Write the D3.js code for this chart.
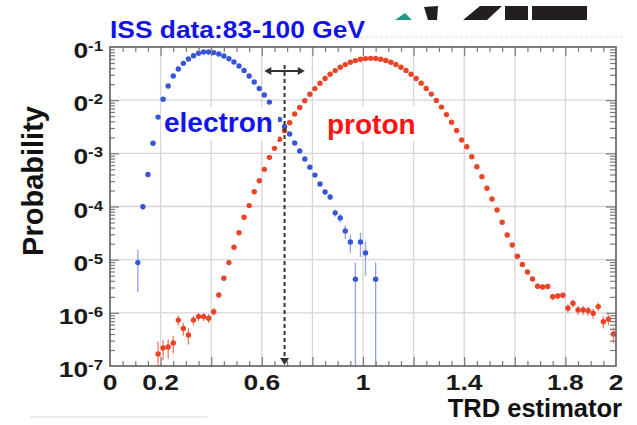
<!DOCTYPE html>
<html>
<head>
<meta charset="utf-8">
<script src="https://cdn.jsdelivr.net/npm/d3@7"></script>
<style>
  html, body { margin: 0; padding: 0; background: #fff; }
  svg { display: block; font-family: "Liberation Sans", Arial, Helvetica, sans-serif; }
</style>
</head>
<body>
<svg id="chart" width="637" height="425"></svg>
<script>
// ---- TRD estimator distributions, 83-100 GeV (bin centres, probability, stat. error) ----
const electronX = [0.11,0.13,0.15,0.17,0.19,0.21,0.23,0.25,0.27,0.29,0.31,0.33,0.35,0.37,0.39,0.41,0.43,0.45,0.47,0.49,
  0.51,0.53,0.55,0.57,0.59,0.61,0.63,0.65,0.67,0.69,0.71,0.73,0.75,0.77,0.79,0.81,0.83,0.85,0.87,0.89,
  0.91,0.93,0.95,0.97,0.99,1.01,1.05];
const electronP = [8.8e-6,9.9e-5,4.0e-4,1.55e-3,4.8e-3,1.04e-2,1.85e-2,2.85e-2,3.86e-2,4.93e-2,5.94e-2,6.86e-2,7.62e-2,8.05e-2,8.05e-2,7.85e-2,7.38e-2,6.77e-2,6.03e-2,5.22e-2,
  4.39e-2,3.61e-2,2.85e-2,2.20e-2,1.66e-2,1.25e-2,9.2e-3,6.25e-3,4.33e-3,3.17e-3,2.31e-3,1.56e-3,1.11e-3,7.8e-4,5.5e-4,3.9e-4,2.65e-4,1.87e-4,1.51e-4,7.6e-5,
  6.1e-5,3.46e-5,2.15e-5,4.3e-6,2.15e-5,1.34e-5,4.3e-6];
const electronErr = [6.4e-6,1.2e-5,2.4e-5,5e-5,9e-5,1.4e-4,2e-4,2.4e-4,2.8e-4,3.2e-4,3.5e-4,3.7e-4,3.9e-4,4e-4,4e-4,4e-4,3.9e-4,3.7e-4,3.5e-4,3.3e-4,
  3e-4,2.7e-4,2.4e-4,2.1e-4,1.8e-4,1.6e-4,1.4e-4,1.1e-4,9e-5,8e-5,7e-5,5.6e-5,4.7e-5,3.9e-5,3.3e-5,2.8e-5,2.3e-5,1.9e-5,1.7e-5,1.2e-5,
  1.1e-5,1.0e-5,8e-6,4.5e-6,1.03e-5,8.4e-6,4.5e-6];

const protonX = [0.19,0.21,0.23,0.25,0.27,0.29,0.31,0.33,0.35,0.37,0.39,0.41,0.43,0.45,0.47,0.49,
  0.51,0.53,0.55,0.57,0.59,0.61,0.63,0.65,0.67,0.69,0.71,0.73,0.75,0.77,0.79,0.81,0.83,0.85,0.87,0.89,
  0.91,0.93,0.95,0.97,0.99,1.01,1.03,1.05,1.07,1.09,1.11,1.13,1.15,1.17,1.19,1.21,1.23,1.25,1.27,1.29,
  1.31,1.33,1.35,1.37,1.39,1.41,1.43,1.45,1.47,1.49,1.51,1.53,1.55,1.57,1.59,1.61,1.63,1.65,1.67,1.69,
  1.71,1.73,1.75,1.77,1.79,1.81,1.83,1.85,1.87,1.89,1.91,1.93,1.95,1.97,1.99];
const protonP = [1.68e-7,2.18e-7,2.28e-7,2.71e-7,7.3e-7,5.1e-7,3.83e-7,7.3e-7,8.5e-7,8.5e-7,7.9e-7,1.05e-6,2.17e-6,4.47e-6,8.8e-6,1.71e-5,
  3.21e-5,6.27e-5,1.04e-4,1.90e-4,3.06e-4,5.0e-4,8.4e-4,1.24e-3,1.84e-3,2.67e-3,3.77e-3,5.5e-3,7.3e-3,9.8e-3,1.29e-2,1.65e-2,2.08e-2,2.55e-2,3.07e-2,3.60e-2,
  4.15e-2,4.67e-2,5.15e-2,5.55e-2,5.87e-2,6.05e-2,6.12e-2,6.06e-2,5.88e-2,5.57e-2,5.16e-2,4.68e-2,4.16e-2,3.61e-2,3.08e-2,2.56e-2,2.09e-2,1.66e-2,1.30e-2,9.9e-3,
  7.4e-3,5.35e-3,3.84e-3,2.68e-3,1.78e-3,1.33e-3,8.6e-4,5.6e-4,3.64e-4,2.20e-4,1.38e-4,8.6e-5,5.05e-5,2.91e-5,1.89e-5,1.16e-5,8.1e-6,5.86e-6,4.33e-6,3.17e-6,
  3.06e-6,3.13e-6,2.01e-6,2.07e-6,2.14e-6,1.22e-6,1.51e-6,1.13e-6,1.13e-6,1.10e-6,9.8e-7,1.31e-6,6.8e-7,7.6e-7,4.0e-7];
const protonErr = [1.2e-7,9e-8,9e-8,1.0e-7,1.6e-7,1.4e-7,1.3e-7,1.5e-7,1.5e-7,1.5e-7,1.5e-7,1.7e-7,2.3e-7,3.2e-7,4.5e-7,6e-7,
  8e-7,1.1e-6,1.4e-6,1.9e-6,2.4e-6,3e-6,4e-6,5e-6,6e-6,7e-6,9e-6,1.1e-5,1.3e-5,1.5e-5,1.7e-5,2e-5,2.2e-5,2.5e-5,2.7e-5,3e-5,
  3.2e-5,3.4e-5,3.5e-5,3.7e-5,3.8e-5,3.9e-5,3.9e-5,3.9e-5,3.8e-5,3.7e-5,3.5e-5,3.4e-5,3.2e-5,3e-5,2.7e-5,2.5e-5,2.2e-5,2e-5,1.8e-5,1.5e-5,
  1.3e-5,1.1e-5,9e-6,7e-6,5.5e-6,4.6e-6,3.7e-6,3e-6,2.4e-6,1.9e-6,1.5e-6,1.2e-6,9e-7,7e-7,5.5e-7,4.5e-7,4e-7,3.5e-7,3.2e-7,3.4e-7,
  3.3e-7,3.3e-7,2.8e-7,2.8e-7,2.8e-7,2.3e-7,2.5e-7,2.2e-7,2.2e-7,2.2e-7,2.1e-7,2.4e-7,1.7e-7,1.8e-7,1.3e-7];

// ---- axis definitions ----
const xTickValues = [0, 0.2, 0.6, 1, 1.4, 1.8, 2];
const xTickLabels = ["0", "0.2", "0.6", "1", "1.4", "1.8", "2"];
const xGridValues = [0.2, 0.4, 0.6, 0.8, 1.0, 1.2, 1.4, 1.6, 1.8];
const yTickExponents = [-1, -2, -3, -4, -5, -6, -7];
const yTickMantissas = ["0", "0", "0", "0", "0", "10", "10"];
const yGridValues = [1e-2, 1e-3, 1e-4, 1e-5, 1e-6];
const cutValue = 0.69;          // selection cut on the estimator
const cutArrowHalfWidth = 0.08; // extent of the double arrow around the cut

const titleText = "ISS data:83-100 GeV";
const electronLabel = "electron";
const protonLabel = "proton";
const yTitle = "Probability";
const xTitle = "TRD estimator";

// ---- layout ----
const svg = d3.select("#chart");
const plot = { left: 110, right: 616, top: 47, bottom: 366 };
const x = d3.scaleLinear().domain([0, 2]).range([plot.left, plot.right]);
const y = d3.scaleLog().domain([1e-7, 1e-1]).range([plot.bottom, plot.top]);

const electronColor = "#3556dc", electronBar = "#8ea0ee";
const protonColor = "#ec4326", protonBar = "#f07a60";

svg.append("rect").attr("width", 637).attr("height", 425).attr("fill", "#fff");

// faint scan lines from the page around the plot
svg.append("line").attr("x1", 360).attr("x2", 622).attr("y1", 37).attr("y2", 37)
  .attr("stroke", "#efefef").attr("stroke-width", 2).attr("stroke-dasharray", "3,2");
svg.append("line").attr("x1", 30).attr("x2", 207).attr("y1", 417).attr("y2", 417)
  .attr("stroke", "#e6e6e6").attr("stroke-width", 1.5);

// ---- logo fragment at the top ----
const logo = svg.append("g");
logo.append("polygon").attr("points", "395,20 405,13 412,20").attr("fill", "#1b9c82");
logo.append("polygon").attr("points", "424,7 438,6 437,20 428,20").attr("fill", "#231f20");
logo.append("polygon").attr("points", "463,20 480,6 502,6 487,20").attr("fill", "#231f20");
logo.append("rect").attr("x", 505).attr("y", 6).attr("width", 23).attr("height", 14).attr("fill", "#231f20");
logo.append("rect").attr("x", 532).attr("y", 6).attr("width", 55).attr("height", 14).attr("fill", "#231f20");

// ---- grid ----
const grid = svg.append("g").attr("stroke", "#d6d6d6").attr("stroke-width", 1.3);
grid.selectAll(".gx").data(xGridValues).join("line")
  .attr("x1", d => x(d)).attr("x2", d => x(d)).attr("y1", plot.top).attr("y2", plot.bottom);
grid.selectAll(".gy").data(yGridValues).join("line")
  .attr("x1", plot.left).attr("x2", plot.right).attr("y1", d => y(d)).attr("y2", d => y(d));

// ---- data: error bars then markers ----
function drawSeries(xs, ps, errs, color, barColor) {
  const data = xs.map((v, i) => ({ x: v, p: ps[i], e: errs[i] }));
  const g = svg.append("g");
  g.selectAll("line").data(data).join("line")
    .attr("x1", d => x(d.x)).attr("x2", d => x(d.x))
    .attr("y1", d => y(Math.min(d.p + d.e, 1e-1)))
    .attr("y2", d => (d.p - d.e) > 1e-7 ? y(d.p - d.e) : plot.bottom)
    .attr("stroke", barColor).attr("stroke-width", 1.3);
  g.selectAll("circle").data(data).join("circle")
    .attr("cx", d => x(d.x)).attr("cy", d => y(d.p)).attr("r", 2.7)
    .attr("fill", color);
}
drawSeries(protonX, protonP, protonErr, protonColor, protonBar);
drawSeries(electronX, electronP, electronErr, electronColor, electronBar);

// ---- axes: tick marks on all four sides, pointing inwards ----
const xMinor = d3.range(1, 40).map(i => i * 0.05).filter(v => Math.abs(v / 0.2 - Math.round(v / 0.2)) > 1e-6);
const xMajor = d3.range(1, 10).map(i => i * 0.2);
const yMajor = [1e-6, 1e-5, 1e-4, 1e-3, 1e-2];
const yMinor = [];
for (let e = -7; e < -1; e++) for (let m = 2; m <= 9; m++) yMinor.push(m * Math.pow(10, e));

function styleAxis(sel) {
  sel.select(".domain").remove();
  sel.selectAll(".tick line").attr("stroke", "#7a7a7a").attr("stroke-width", 1.2);
}
const axes = svg.append("g");
axes.append("g").attr("transform", `translate(0,${plot.bottom})`)
  .call(d3.axisBottom(x).tickValues(xMinor).tickSize(-5).tickFormat("")).call(styleAxis);
axes.append("g").attr("transform", `translate(0,${plot.bottom})`)
  .call(d3.axisBottom(x).tickValues(xMajor).tickSize(-9).tickFormat("")).call(styleAxis);
axes.append("g").attr("transform", `translate(0,${plot.top})`)
  .call(d3.axisTop(x).tickValues(xMinor).tickSize(-5).tickFormat("")).call(styleAxis);
axes.append("g").attr("transform", `translate(0,${plot.top})`)
  .call(d3.axisTop(x).tickValues(xMajor).tickSize(-9).tickFormat("")).call(styleAxis);
axes.append("g").attr("transform", `translate(${plot.left},0)`)
  .call(d3.axisLeft(y).tickValues(yMinor).tickSize(-5).tickFormat("")).call(styleAxis);
axes.append("g").attr("transform", `translate(${plot.left},0)`)
  .call(d3.axisLeft(y).tickValues(yMajor).tickSize(-9).tickFormat("")).call(styleAxis);
axes.append("g").attr("transform", `translate(${plot.right},0)`)
  .call(d3.axisRight(y).tickValues(yMinor).tickSize(-6).tickFormat("")).call(styleAxis);
axes.append("g").attr("transform", `translate(${plot.right},0)`)
  .call(d3.axisRight(y).tickValues(yMajor).tickSize(-10).tickFormat("")).call(styleAxis);

// frame
svg.append("rect").attr("x", plot.left).attr("y", plot.top)
  .attr("width", plot.right - plot.left).attr("height", plot.bottom - plot.top)
  .attr("fill", "none").attr("stroke", "#5e5e5e").attr("stroke-width", 1.6);

// ---- cut line and double arrow ----
const cx = x(cutValue);
const arrowY = 71;
svg.append("line").attr("x1", cx).attr("x2", cx).attr("y1", 65).attr("y2", plot.bottom - 6)
  .attr("stroke", "#333").attr("stroke-width", 2).attr("stroke-dasharray", "4,3");
svg.append("polygon")
  .attr("points", `${cx - 4.5},${plot.bottom - 8} ${cx + 4.5},${plot.bottom - 8} ${cx},${plot.bottom - 1}`)
  .attr("fill", "#333");
const ax1 = x(cutValue - cutArrowHalfWidth), ax2 = x(cutValue + cutArrowHalfWidth);
svg.append("line").attr("x1", ax1 + 4).attr("x2", ax2 - 4).attr("y1", arrowY).attr("y2", arrowY)
  .attr("stroke", "#333").attr("stroke-width", 2);
svg.append("polygon").attr("points", `${ax1},${arrowY} ${ax1 + 7},${arrowY - 4} ${ax1 + 7},${arrowY + 4}`).attr("fill", "#333");
svg.append("polygon").attr("points", `${ax2},${arrowY} ${ax2 - 7},${arrowY - 4} ${ax2 - 7},${arrowY + 4}`).attr("fill", "#333");

// ---- in-plot labels on white boxes ----
svg.append("rect").attr("x", 161).attr("y", 107).attr("width", 117).attr("height", 33).attr("fill", "#fff");
svg.append("text").attr("x", 164).attr("y", 132).attr("font-size", 28).attr("font-weight", "bold")
  .attr("fill", "#1414ee").text(electronLabel);
svg.append("rect").attr("x", 324).attr("y", 106).attr("width", 95).attr("height", 35).attr("fill", "#fff");
svg.append("text").attr("x", 327).attr("y", 134).attr("font-size", 28).attr("font-weight", "bold")
  .attr("fill", "#ff1212").text(protonLabel);

// ---- title ----
svg.append("text").attr("x", 110).attr("y", 37.5).attr("font-size", 23).attr("font-weight", "bold")
  .attr("fill", "#1212ea").attr("textLength", 255).attr("lengthAdjust", "spacingAndGlyphs").text(titleText);

// ---- x tick labels ----
svg.append("g").selectAll("text").data(xTickValues).join("text")
  .attr("transform", d => `translate(${x(d)},390) scale(1.2,1)`)
  .attr("text-anchor", "middle").attr("font-size", 22).attr("font-weight", "bold").attr("fill", "#1a1a1a")
  .text((d, i) => xTickLabels[i]);

// ---- y tick labels (power-of-ten) ----
const yl = svg.append("g").selectAll("text").data(yTickExponents).join("text")
  .attr("transform", d => `translate(103,${y(Math.pow(10, d)) + 11}) scale(1.2,1)`)
  .attr("text-anchor", "end").attr("font-weight", "bold").attr("fill", "#1a1a1a");
yl.append("tspan").attr("font-size", 22).text((d, i) => yTickMantissas[i]);
yl.append("tspan").attr("font-size", 14).attr("dy", -7).text(d => String(d));

// ---- axis titles ----
svg.append("text").attr("transform", "translate(43,181) rotate(-90)").attr("text-anchor", "middle")
  .attr("font-size", 29).attr("font-weight", "bold").attr("fill", "#111").text(yTitle);
svg.append("text").attr("x", 622).attr("y", 417).attr("text-anchor", "end")
  .attr("font-size", 25.5).attr("font-weight", "bold").attr("fill", "#111").text(xTitle);
</script>
</body>
</html>
